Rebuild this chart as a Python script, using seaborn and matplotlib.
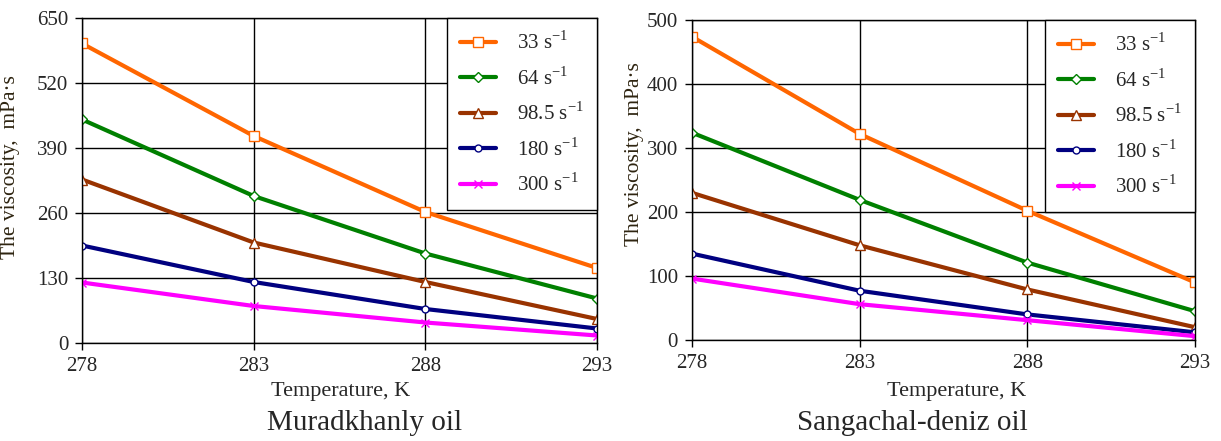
import matplotlib
matplotlib.use("Agg")
import matplotlib.pyplot as plt
import seaborn as sns

temperature = [278, 283, 288, 293]
shear_labels = ["33", "64", "98.5", "180", "300"]

# Muradkhanly oil, viscosity mPa*s
murad_33 = [599, 414, 262, 150]
murad_64 = [447, 294, 179, 89]
murad_98 = [327, 201, 122, 48]
murad_180 = [195, 122, 68, 29]
murad_300 = [121, 74, 41, 15]

# Sangachal-deniz oil, viscosity mPa*s
sang_33 = [474, 322, 202, 90]
sang_64 = [324, 219, 121, 45]
sang_98 = [230, 148, 79, 20]
sang_180 = [135, 77, 40, 12]
sang_300 = [96, 56, 31, 6]

colors = ["#ff6600", "#008000", "#993300", "#000080", "#ff00ff"]
markers = ["s", "D", "^", "o", "x"]
msizes = [7, 5, 7, 5, 6]

sns.set_style("white")
plt.rcParams["font.family"] = ["Liberation Serif", "DejaVu Serif"]
plt.rcParams["mathtext.fontset"] = "custom"
plt.rcParams["mathtext.rm"] = "Liberation Serif"

fig = plt.figure(figsize=(12.21, 4.41), dpi=100)
ax1 = fig.add_axes([0.0672, 0.2222, 0.4218, 0.737])
ax2 = fig.add_axes([0.5667, 0.229, 0.412, 0.7256])


def draw_panel(ax, series, ymax, step, ylab_xy, xlab_xy):
    for vals, lab, c, m, ms in zip(series, shear_labels, colors, markers, msizes):
        sns.lineplot(x=temperature, y=vals, ax=ax, color=c, marker=m,
                     markersize=ms, markerfacecolor="white", markeredgecolor=c,
                     markeredgewidth=1.0, linewidth=3,
                     label=lab + r" s$^{\mathregular{-1}}$")
    ax.set_xlim(278, 293)
    ax.set_ylim(0, ymax)
    ax.set_xticks(temperature)
    ax.set_yticks(list(range(0, ymax + 1, step)))
    ax.grid(True, color="black", linewidth=1.0)
    ax.set_axisbelow(True)
    for sp in ax.spines.values():
        sp.set_color("black")
        sp.set_linewidth(1.0)
    ax.tick_params(axis="both", labelsize=15, direction="out", length=5,
                   width=1, color="black", pad=5, bottom=True, left=True)
    ax.set_xlabel("Temperature, K", fontsize=16)
    ax.set_ylabel("The viscosity,  mPa\u00b7s", fontsize=15.5, color="#2e2410")
    ax.yaxis.set_label_coords(*ylab_xy)
    ax.xaxis.set_label_coords(*xlab_xy)
    leg = ax.legend(loc="upper right", bbox_to_anchor=(1.0, 1.0),
                    borderaxespad=0, fontsize=15, frameon=True, fancybox=False,
                    labelspacing=0.62, handlelength=1.7, borderpad=0.65,
                    handletextpad=1.0, framealpha=1)
    leg.get_frame().set_edgecolor("black")
    leg.get_frame().set_linewidth(1.0)


draw_panel(ax1, [murad_33, murad_64, murad_98, murad_180, murad_300],
           650, 130, (-0.12, 0.54), (0.503, -0.12))
draw_panel(ax2, [sang_33, sang_64, sang_98, sang_180, sang_300],
           500, 100, (-0.095, 0.58), (0.527, -0.13))

fig.text(365 / 1221, 1 - 423 / 441, "Muradkhanly oil", fontsize=21,
         ha="center", va="center")
fig.text(912 / 1221, 1 - 423 / 441, "Sangachal-deniz oil", fontsize=21,
         ha="center", va="center")

fig.savefig("out.png", dpi=100)
